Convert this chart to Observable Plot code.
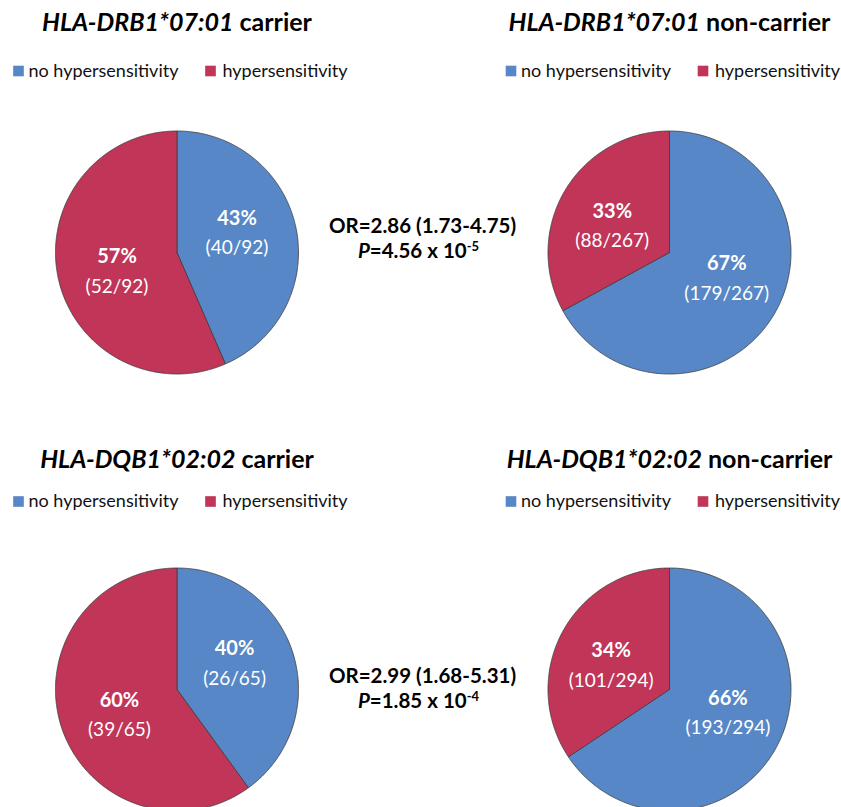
<!DOCTYPE html>
<html>
<head>
<meta charset="utf-8">
<script src="https://cdn.jsdelivr.net/npm/d3@7"></script>
<script src="https://cdn.jsdelivr.net/npm/@observablehq/plot@0.6"></script>
<style>
  body { margin: 0; background: #fff; }
  #chart svg { display: block; }
</style>
</head>
<body>
<div id="chart"></div>
<script>
// ---------- data ----------
const genes = ["HLA-DRB1*07:01", "HLA-DQB1*02:02"];
const statuses = ["carrier", "non-carrier"];
const outcomes = ["no hypersensitivity", "hypersensitivity"];
const outcomeColors = ["#5787C6", "#C03558"];
// counts per panel: [no hypersensitivity, hypersensitivity]
const countsDRB1Carrier = [40, 52];
const countsDRB1NonCarrier = [179, 88];
const countsDQB1Carrier = [26, 39];
const countsDQB1NonCarrier = [193, 101];
const oddsRatios = ["OR=2.86 (1.73-4.75)", "OR=2.99 (1.68-5.31)"];
const pMantissas = ["4.56", "1.85"];
const pExponents = ["-5", "-4"];

// ---------- layout ----------
const W = 841, H = 807;
const colX = [176.5, 669];
const pieY = [252, 689];
const titleBase = [30, 467];
const legendMid = [70.5, 501];
const annotBase = [232, 682];
const annotX = 422;
const R = 121.5;
const labelR = 63;
const labelShift = 6 * Math.PI / 180;
const FONT = "Lato, 'Open Sans', sans-serif";

const panels = [
  { gene: 0, status: 0, counts: countsDRB1Carrier },
  { gene: 0, status: 1, counts: countsDRB1NonCarrier },
  { gene: 1, status: 0, counts: countsDQB1Carrier },
  { gene: 1, status: 1, counts: countsDQB1NonCarrier }
];

const slicePts = [];
const labels = [];
const titles = [];
const legendItems = [];
panels.forEach((p, pi) => {
  const cx = colX[p.status], cy = pieY[p.gene];
  const total = d3.sum(p.counts);
  const arcs = d3.pie().sort(null).value(d => d)(p.counts);
  arcs.forEach((a, si) => {
    const key = pi + "-" + si;
    const outcome = outcomes[si];
    const n = Math.max(2, Math.ceil((a.endAngle - a.startAngle) / (Math.PI / 360)));
    slicePts.push({ key, outcome, x: cx, y: cy });
    for (let k = 0; k <= n; k++) {
      const t = a.startAngle + (a.endAngle - a.startAngle) * k / n;
      slicePts.push({ key, outcome, x: cx + R * Math.sin(t), y: cy - R * Math.cos(t) });
    }
    slicePts.push({ key, outcome, x: cx, y: cy });
    const mid = (a.startAngle + a.endAngle) / 2 - labelShift;
    labels.push({
      x: cx + labelR * Math.sin(mid),
      y: cy - labelR * Math.cos(mid),
      pct: Math.round(100 * a.value / total) + "%",
      frac: `(${a.value}/${total})`
    });
  });
  titles.push({ x: cx, y: titleBase[p.gene], gene: genes[p.gene], status: statuses[p.status], text: genes[p.gene] + " " + statuses[p.status] });
  const legendOffsets = [[-158.5, -148.5], [33.5, 45.5]];
  outcomes.forEach((o, oi) => {
    legendItems.push({ outcome: o, sx: cx + legendOffsets[oi][0], tx: cx + legendOffsets[oi][1], y: legendMid[p.gene] });
  });
});

const annots = oddsRatios.map((or, i) => ({ x: annotX, y: annotBase[i], text: or }));
const pLines = pMantissas.map((m, i) => ({ x: annotX - 4, y: annotBase[i] + 25, text: `P=${m} x 10${pExponents[i]}` }));

const svg = Plot.plot({
  width: W,
  height: H,
  margin: 0,
  x: { domain: [0, W], range: [0, W], axis: null },
  y: { domain: [0, H], range: [0, H], axis: null },
  color: { domain: outcomes, range: outcomeColors },
  style: { background: "white", fontFamily: FONT },
  marks: [
    Plot.line(slicePts, {
      x: "x", y: "y", z: "key", fill: "outcome",
      stroke: "#3d3d3d", strokeWidth: 0.8, strokeLinejoin: "miter", curve: "linear"
    }),
    Plot.text(labels, { x: "x", y: "y", text: "pct", dy: -15, fill: "white", fontWeight: "bold", fontSize: 20 }),
    Plot.text(labels, { x: "x", y: "y", text: "frac", dy: 15, fill: "white", fontSize: 19 }),
    Plot.text(titles, {
      x: "x", y: "y", text: "text", fontSize: 25, fontWeight: "bold", fill: "#000",
      lineAnchor: "bottom"
    }),
    Plot.dot(legendItems, { x: "sx", y: "y", fill: "outcome", symbol: "square", r: 6, stroke: null }),
    Plot.text(legendItems, {
      x: "tx", y: "y", text: "outcome", textAnchor: "start", fontSize: 18, fill: "#111"
    }),
    Plot.text(annots, {
      x: "x", y: "y", text: "text", fontSize: 20.5, fontWeight: "bold", fill: "#000", lineAnchor: "bottom"
    }),
    Plot.text(pLines, {
      x: "x", y: "y", text: "text", fontSize: 20.5, fontWeight: "bold", fill: "#000",
      lineAnchor: "bottom"
    })
  ]
});

// rich text: italic gene names, italic P, superscript exponents
const NS = "http://www.w3.org/2000/svg";
function tspan(parent, txt, attrs) {
  const t = document.createElementNS(NS, "tspan");
  t.textContent = txt;
  for (const k in attrs) t.setAttribute(k, attrs[k]);
  parent.appendChild(t);
  return t;
}
const allText = Array.from(svg.querySelectorAll("text"));
titles.forEach(t => {
  allText.filter(el => el.textContent === t.text).forEach(el => {
    el.textContent = "";
    tspan(el, t.gene, { "font-style": "italic" });
    tspan(el, " " + t.status, {});
  });
});
pLines.forEach((p, i) => {
  allText.filter(el => el.textContent === p.text).forEach(el => {
    el.textContent = "";
    tspan(el, "P", { "font-style": "italic" });
    tspan(el, `=${pMantissas[i]} x 10`, {});
    tspan(el, pExponents[i], { "font-size": "13px", dy: "-7" });
  });
});

document.getElementById("chart").appendChild(svg);
</script>
</body>
</html>
